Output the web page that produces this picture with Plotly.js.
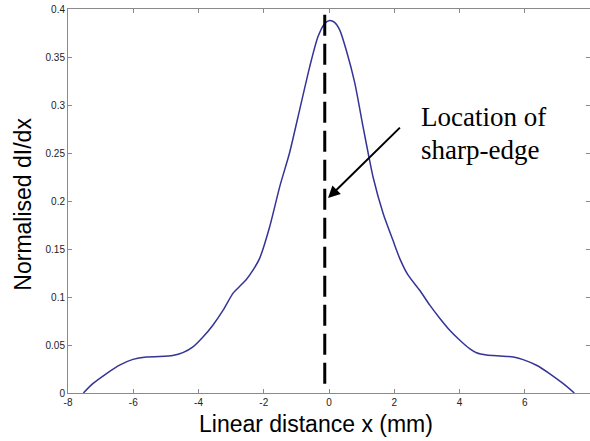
<!DOCTYPE html>
<html>
<head>
<meta charset="utf-8">
<script src="https://cdn.plot.ly/plotly-3.0.1.min.js"></script>
<style>html,body{margin:0;padding:0;background:#fff;}#chart{width:590px;height:441px;}</style>
</head>
<body>
<div id="chart"></div>
<script>
// Curve: normalised dI/dx vs linear distance x (mm)
const xMm = [-7.53, -7.24, -6.83, -6.42, -6.01, -5.60, -5.19, -4.79, -4.48, -4.17, -3.87, -3.56, -3.25, -2.94, -2.74, -2.54, -2.33, -2.13, -1.82, -1.51, -1.21, -0.90, -0.59, -0.34, -0.13, 0.02, 0.17, 0.33, 0.53, 0.79, 1.04, 1.20, 1.35, 1.66, 1.96, 2.17, 2.42, 2.78, 3.09, 3.40, 3.70, 4.01, 4.32, 4.52, 4.83, 5.24, 5.65, 5.95, 6.36, 6.77, 7.18, 7.52];
const dIdx = [0, 0.0097, 0.020, 0.029, 0.035, 0.0376, 0.038, 0.039, 0.042, 0.048, 0.058, 0.0706, 0.086, 0.104, 0.111, 0.118, 0.128, 0.140, 0.173, 0.215, 0.250, 0.295, 0.340, 0.371, 0.385, 0.388, 0.386, 0.378, 0.357, 0.323, 0.278, 0.250, 0.225, 0.187, 0.159, 0.140, 0.123, 0.107, 0.0915, 0.0776, 0.0654, 0.055, 0.046, 0.042, 0.0396, 0.0386, 0.0376, 0.0348, 0.0289, 0.020, 0.0097, 0];

// Sharp-edge marker line
const edgeX = [-0.13, -0.13];
const edgeY = [0.394, 0.005];

// Arrow (tail -> tip) and label
const arrowTail = [2.22, 0.278];
const arrowTip = [-0.03, 0.203];
const labelLines = ["Location of", "sharp-edge"];
const labelX = [2.75, 2.75];
const labelY = [0.2876, 0.253];

// Ticks
const xTickVals = [-8, -6, -4, -2, 0, 2, 4, 6, 8];
const xTickText = ["-8", "-6", "-4", "-2", "0", "2", "4", "6", "8"];
const yTickVals = [0, 0.05, 0.1, 0.15, 0.2, 0.25, 0.3, 0.35, 0.4];
const yTickText = ["0", "0.05", "0.1", "0.15", "0.2", "0.25", "0.3", "0.35", "0.4"];

const xTitle = "Linear distance x (mm)";
const yTitle = "Normalised dI/dx";

const sans = "Liberation Sans, Arial, sans-serif";
const serif = "Liberation Serif, Times New Roman, serif";

const traces = [
  {
    x: xMm, y: dIdx, type: "scatter", mode: "lines",
    line: {color: "rgb(52,52,150)", width: 1.5, shape: "spline", smoothing: 0.6},
    hoverinfo: "skip", showlegend: false
  },
  {
    x: edgeX, y: edgeY, type: "scatter", mode: "lines",
    line: {color: "#000", width: 3, dash: "21px,8px"},
    hoverinfo: "skip", showlegend: false
  }
];

const axisCommon = {
  showgrid: false, zeroline: false, showline: true, mirror: "ticks",
  linecolor: "#8a8a8a", linewidth: 1, ticks: "inside", ticklen: 4,
  tickcolor: "#8a8a8a", tickwidth: 1,
  tickfont: {family: sans, size: 10, color: "#222"},
  tickmode: "array"
};

const annotations = [
  {
    x: arrowTip[0], y: arrowTip[1], ax: arrowTail[0], ay: arrowTail[1],
    xref: "x", yref: "y", axref: "x", ayref: "y",
    text: "", showarrow: true, arrowhead: 2, arrowsize: 1.2, arrowwidth: 2, arrowcolor: "#000"
  },
  {
    x: 0.475, y: -0.082, xref: "paper", yref: "paper", xanchor: "center", yanchor: "middle",
    text: xTitle, showarrow: false, font: {family: sans, size: 23, color: "#000"}
  },
  {
    x: -0.087, y: 0.492, xref: "paper", yref: "paper", xanchor: "center", yanchor: "middle",
    text: yTitle, textangle: -90, showarrow: false, font: {family: sans, size: 23, color: "#000"}
  }
];
labelLines.forEach((t, i) => annotations.push({
  x: labelX[i], y: labelY[i], xref: "x", yref: "y", xanchor: "left", yanchor: "middle",
  text: t, showarrow: false, font: {family: serif, size: 27, color: "#000"}
}));

const layout = {
  width: 590, height: 441,
  margin: {l: 68, r: 0, t: 9, b: 48, pad: 0},
  paper_bgcolor: "#fff", plot_bgcolor: "#fff",
  showlegend: false,
  xaxis: Object.assign({}, axisCommon, {range: [-8, 8], tickvals: xTickVals, ticktext: xTickText}),
  yaxis: Object.assign({}, axisCommon, {range: [0, 0.4], tickvals: yTickVals, ticktext: yTickText}),
  annotations: annotations
};

Plotly.newPlot("chart", traces, layout, {displayModeBar: false, staticPlot: true});
</script>
</body>
</html>
